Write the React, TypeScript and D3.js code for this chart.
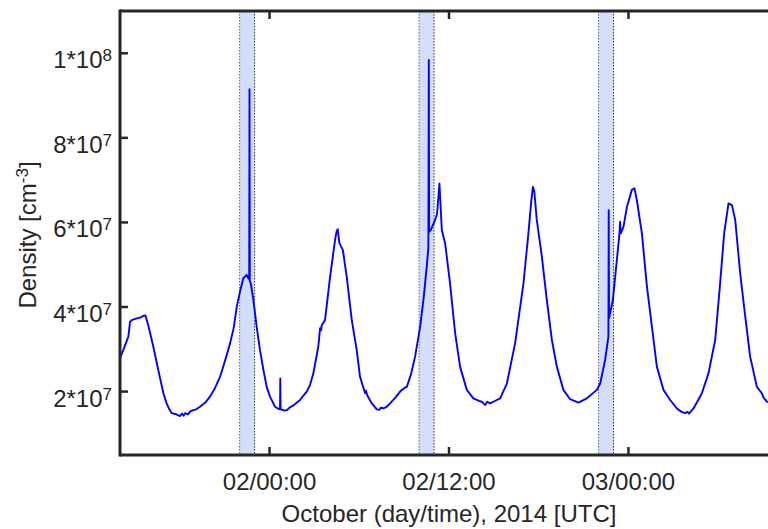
import React from "react";
import * as d3 from "d3";

// Time in hours since 2014-10-01 00:00 UTC
const T0 = Date.UTC(2014, 9, 1);
const hours = [
  14.0, 14.22, 14.45, 14.56, 14.67, 14.78, 15.12, 15.35, 15.56, 15.7, 15.89, 16.23, 16.56, 16.9, 17.12, 17.3, 17.46, 17.7,
  18.01, 18.15, 18.25, 18.35, 18.55, 18.7, 18.9, 19.1, 19.35, 19.7, 20.02, 20.35, 20.69, 21.0, 21.36, 21.6, 21.81, 22.05,
  22.25, 22.47, 22.58, 22.64, 22.66, 22.68, 22.75, 22.92, 23.14, 23.36, 23.59, 23.81, 24.03, 24.37, 24.55, 24.7, 24.72,
  24.74, 24.85, 25.0, 25.15, 25.37, 25.55, 25.75, 26.04, 26.25, 26.49, 26.7, 26.93, 27.26, 27.38, 27.45, 27.49, 27.71,
  28.05, 28.38, 28.48, 28.56, 28.67, 28.9, 29.16, 29.5, 29.83, 30.05, 30.39, 30.45, 30.55, 30.84, 31.17, 31.35, 31.45, 31.61,
  31.8, 32.06, 32.4, 32.73, 33.0, 33.18, 33.45, 33.73, 34.07, 34.3, 34.51, 34.62, 34.65, 34.67, 34.78, 35.07, 35.2,
  35.36, 35.52, 35.74, 36.07, 36.41, 36.74, 37.19, 37.63, 38.0, 38.19, 38.3, 38.42, 38.55, 38.75, 38.97, 39.42, 39.87,
  40.42, 40.98, 41.31, 41.5, 41.61, 41.7, 41.87, 42.21, 42.54, 42.88, 43.21, 43.65, 44.1, 44.66, 45.22, 45.89, 46.11,
  46.44, 46.66, 46.68, 46.7, 46.96, 47.4, 47.44, 47.49, 47.67, 47.9, 48.23, 48.4, 48.56, 48.9, 49.23, 49.57, 49.9, 50.34,
  50.79, 51.24, 51.55, 51.79, 51.95, 52.05, 52.35, 52.91, 53.35, 53.8, 54.13, 54.4, 54.69, 54.92, 55.14, 55.47, 55.81,
  56.14, 56.59, 56.92, 57.05, 57.26, 57.6, 58.0,
];
// Density in units of 1e7 cm^-3
const density = [
  2.79, 2.98, 3.2, 3.3, 3.65, 3.69, 3.73, 3.75, 3.79, 3.8, 3.57, 3.06, 2.51, 1.96, 1.72, 1.58, 1.49, 1.47,
  1.42, 1.48, 1.43, 1.49, 1.46, 1.53, 1.56, 1.58, 1.64, 1.74, 1.88, 2.08, 2.35, 2.7, 3.14, 3.5, 4.01, 4.4,
  4.68, 4.76, 4.68, 4.66, 9.15, 4.62, 4.55, 4.17, 3.53, 2.98, 2.51, 2.11, 1.88, 1.64, 1.6, 1.58, 2.31,
  1.58, 1.57, 1.55, 1.56, 1.63, 1.66, 1.72, 1.8, 1.9, 2.0, 2.15, 2.43, 3.06, 3.5, 3.45, 3.57, 3.69,
  4.72, 5.58, 5.78, 5.84, 5.51, 5.35, 4.72, 3.69, 2.98, 2.35, 1.96, 2.02, 1.9, 1.72, 1.58, 1.57, 1.62, 1.6,
  1.63, 1.72, 1.85, 2.0, 2.08, 2.11, 2.4, 2.82, 3.53, 4.2, 4.95, 5.4, 9.84, 5.78, 5.82, 6.06, 6.2,
  6.92, 5.82, 5.51, 4.56, 3.38, 2.59, 2.04, 1.84, 1.78, 1.76, 1.72, 1.68, 1.76, 1.72, 1.76, 1.84, 2.19,
  3.14, 4.56, 5.74, 6.5, 6.84, 6.75, 6.06, 5.19, 4.17, 3.22, 2.59, 2.04, 1.82, 1.74, 1.84, 2.04, 2.19,
  2.75, 3.3, 6.29, 3.73, 4.17, 5.74, 6.02, 5.74, 5.9, 6.37, 6.77, 6.81, 6.53, 5.74, 4.5, 3.53, 2.59, 2.04,
  1.8, 1.6, 1.52, 1.49, 1.52, 1.48, 1.6, 1.96, 2.43, 3.22, 4.56, 5.74, 6.45, 6.41, 6.06, 4.8, 3.77,
  2.82, 2.11, 1.96, 1.85, 1.76, 1.74, 1.75,
];
const shadedStart = [22, 34, 46];
const shadedEnd = [23, 35, 47];
const xTickHours = [24, 36, 48];
const yTickValues = [2e7, 4e7, 6e7, 8e7, 1e8];
const yTickMantissa = ["2", "4", "6", "8", "1"];
const yTickExponent = ["7", "7", "7", "7", "8"];
const xDomainHours = [14, 58];
const yDomain = [5e6, 1.1e8];

const W = 768;
const H = 529;
const L = 120;
const R = 778;
const TOP = 11;
const BOT = 455;
const FONT = "'Liberation Sans', Arial, Helvetica, sans-serif";
const INK = "#262626";

const toDate = (h: number) => new Date(T0 + h * 3600e3);

export default function App() {
  const x = d3.scaleUtc().domain(xDomainHours.map(toDate)).range([L, R]);
  const y = d3.scaleLinear().domain(yDomain).range([BOT, TOP]);
  const data = hours.map((h, i) => ({ t: toDate(h), v: density[i] * 1e7 }));
  const line = d3
    .line<{ t: Date; v: number }>()
    .x((d) => x(d.t))
    .y((d) => y(d.v));
  const fmt = d3.utcFormat("%d/%H:%M");

  return (
    <svg
      width={W}
      height={H}
      style={{ position: "absolute", left: 0, top: 0, background: "#fff" }}
      fontFamily={FONT}
    >
      <defs>
        <clipPath id="plot">
          <rect x={L} y={TOP} width={R - L} height={BOT - TOP} />
        </clipPath>
      </defs>
      <rect x={0} y={0} width={W} height={H} fill="#fff" />
      {shadedStart.map((s, i) => {
        const x0 = x(toDate(s));
        const x1 = x(toDate(shadedEnd[i]));
        return (
          <g key={i}>
            <rect x={x0} y={TOP} width={x1 - x0} height={BOT - TOP} fill="#d4defa" />
            <line x1={x0} x2={x0} y1={TOP} y2={BOT} stroke="#666" strokeWidth={1} strokeDasharray="1.5 1.5" />
            <line x1={x1} x2={x1} y1={TOP} y2={BOT} stroke="#333" strokeWidth={1} strokeDasharray="1.5 1.5" />
          </g>
        );
      })}
      <path
        d={line(data) || ""}
        fill="none"
        stroke="#0000ff"
        strokeWidth={1.9}
        strokeLinejoin="round"
        clipPath="url(#plot)"
      />
      {/* axes box */}
      <g stroke={INK} strokeWidth={3} fill="none">
        <line x1={L} x2={L} y1={TOP - 1.5} y2={BOT + 1.5} />
        <line x1={L} x2={R} y1={BOT} y2={BOT} />
        <line x1={L} x2={R} y1={TOP} y2={TOP} />
        <line x1={R} x2={R} y1={TOP} y2={BOT} />
      </g>
      {/* x ticks */}
      {xTickHours.map((h) => {
        const xx = x(toDate(h));
        return (
          <g key={h}>
            <line x1={xx} x2={xx} y1={BOT} y2={BOT - 8} stroke={INK} strokeWidth={2.5} />
            <line x1={xx} x2={xx} y1={TOP} y2={TOP + 8} stroke={INK} strokeWidth={2.5} />
            <text x={xx} y={490} textAnchor="middle" fontSize={24} fill={INK}>
              {fmt(toDate(h))}
            </text>
          </g>
        );
      })}
      {/* y ticks */}
      {yTickValues.map((v, i) => {
        const yy = y(v);
        return (
          <g key={v}>
            <line x1={L} x2={L + 8} y1={yy} y2={yy} stroke={INK} strokeWidth={2.5} />
            <text x={112} y={yy + 15} textAnchor="end" fontSize={24} fill={INK}>
              {yTickMantissa[i]}*10
              <tspan dy={-7} fontSize={17}>
                {yTickExponent[i]}
              </tspan>
            </text>
          </g>
        );
      })}
      <text x={449} y={522} textAnchor="middle" fontSize={24} fill={INK}>
        October (day/time), 2014 [UTC]
      </text>
      <text transform="translate(36,235) rotate(-90)" textAnchor="middle" fontSize={24} fill={INK}>
        Density [cm
        <tspan dy={-8} fontSize={17}>
          -3
        </tspan>
        <tspan dy={8}>]</tspan>
      </text>
    </svg>
  );
}
